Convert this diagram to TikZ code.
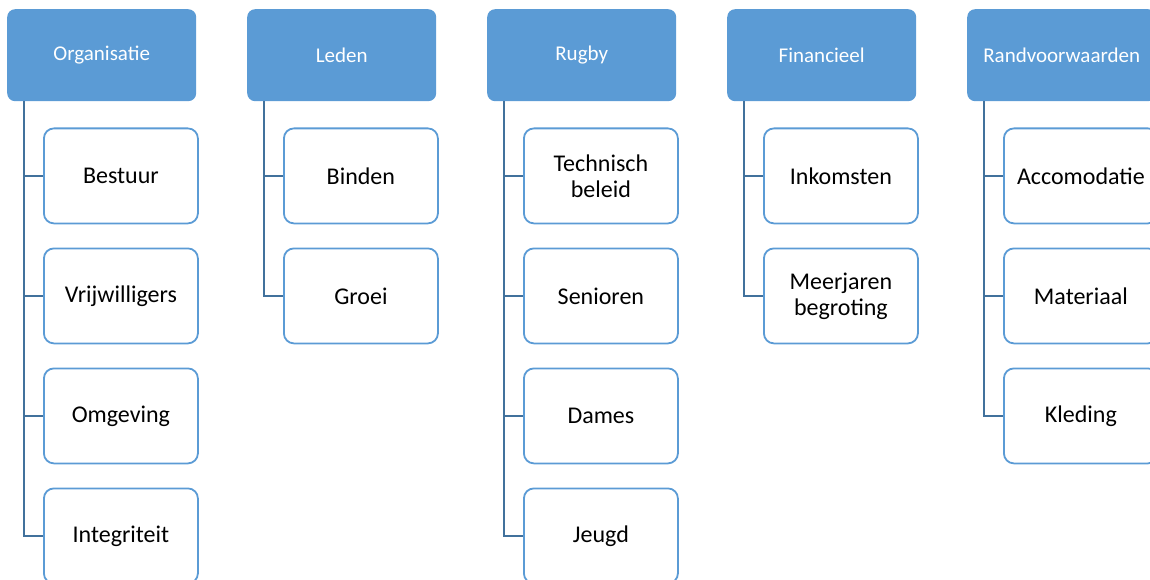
\documentclass[tikz,border=0pt]{standalone}
\usepackage{fontspec}
\setmainfont{Carlito}
\definecolor{hdr}{HTML}{5B9BD5}
\definecolor{lnk}{HTML}{41719C}
\tikzset{
  hdrbox/.style={fill=hdr, rounded corners=8pt, minimum width=189pt, minimum height=92pt,
    text=white, font=\fontsize{21}{25}\selectfont, inner sep=0pt, anchor=north west},
  childbox/.style={draw=hdr, line width=1.8pt, fill=white, rounded corners=10pt,
    minimum width=154pt, minimum height=95pt, font=\fontsize{24}{26}\selectfont,
    align=center, inner sep=0pt, anchor=north west},
  link/.style={draw=lnk, line width=1.8pt}
}
\begin{document}
\begin{tikzpicture}[x=1pt,y=-1pt]
\useasboundingbox (0,0) rectangle (1150,580);
\clip (0,0) rectangle (1150,580);
% column 1
\node[hdrbox] (h1) at (7,9) {Organisatie};
\node[childbox] (c11) at (43,127.5) {Bestuur};
\node[childbox] (c12) at (43,247.5) {Vrijwilligers};
\node[childbox] (c13) at (43,367.5) {Omgeving};
\node[childbox] (c14) at (43,487.5) {Integriteit};
% column 2
\node[hdrbox] (h2) at (247,9) {Leden};
\node[childbox] (c21) at (283,127.5) {Binden};
\node[childbox] (c22) at (283,247.5) {Groei};
% column 3
\node[hdrbox] (h3) at (487,9) {Rugby};
\node[childbox] (c31) at (523,127.5) {Technisch\\beleid};
\node[childbox] (c32) at (523,247.5) {Senioren};
\node[childbox] (c33) at (523,367.5) {Dames};
\node[childbox] (c34) at (523,487.5) {Jeugd};
% column 4
\node[hdrbox] (h4) at (727,9) {Financieel};
\node[childbox] (c41) at (763,127.5) {Inkomsten};
\node[childbox] (c42) at (763,247.5) {Meerjaren\\begroting};
% column 5
\node[hdrbox] (h5) at (967,9) {Randvoorwaarden};
\node[childbox] (c51) at (1003,127.5) {Accomodatie};
\node[childbox] (c52) at (1003,247.5) {Materiaal};
\node[childbox] (c53) at (1003,367.5) {Kleding};
% connectors
\foreach \h/\c in {h1/c11,h1/c12,h1/c13,h1/c14,h2/c21,h2/c22,h3/c31,h3/c32,h3/c33,h3/c34,h4/c41,h4/c42,h5/c51,h5/c52,h5/c53}
  \draw[link] ([xshift=17pt]\h.south west) |- (\c.west);
\end{tikzpicture}
\end{document}
